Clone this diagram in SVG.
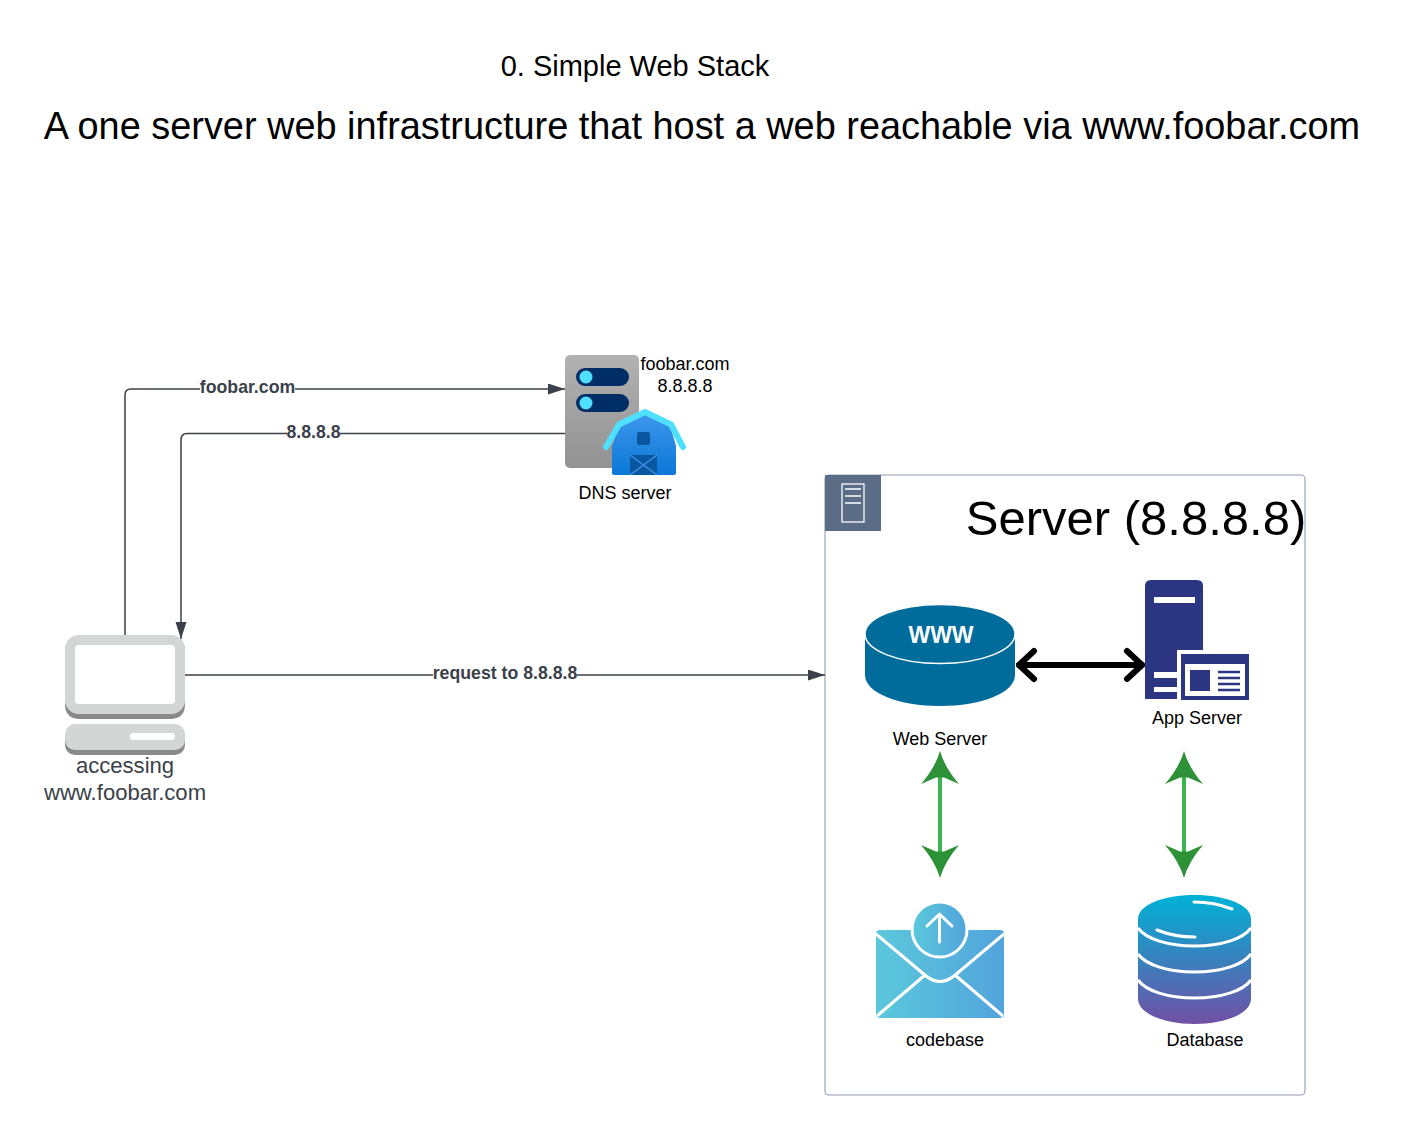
<svg xmlns="http://www.w3.org/2000/svg" width="1416" height="1135" viewBox="0 0 1416 1135">
<style>
text{font-family:"Liberation Sans",Arial,sans-serif;fill:#000;text-anchor:middle}
.conn{fill:none;stroke:#3a414a;stroke-width:1.5}
.lbl{font-size:18px;fill:#000}
.edge{font-size:17.700px;font-weight:bold;fill:#3a414a}
.bg{fill:#fff}
.green{stroke:#3cb44f;stroke-width:4;fill:none}
</style>
<defs>
<marker id="tri" markerUnits="userSpaceOnUse" markerWidth="18" markerHeight="12" refX="17" refY="5.5" orient="auto"><path d="M0 0L17 5.500L0 11Z" fill="#3a414a"/></marker>
<linearGradient id="srv" x1="0" y1="0" x2="0" y2="1"><stop offset="0" stop-color="#b2b2b2"/><stop offset="1" stop-color="#929292"/></linearGradient>
<linearGradient id="barn" x1="0" y1="0" x2="0" y2="1"><stop offset="0" stop-color="#3f96ec"/><stop offset="1" stop-color="#0a78d6"/></linearGradient>
<linearGradient id="mail" x1="0" y1="0" x2="1" y2="0"><stop offset="0" stop-color="#5bc8dc"/><stop offset="1" stop-color="#52a4dc"/></linearGradient>
<linearGradient id="db" x1="0" y1="0" x2="0" y2="1"><stop offset="0" stop-color="#00b2d6"/><stop offset="1" stop-color="#7150a5"/></linearGradient>
</defs>

<g id="titles">
<text x="635" y="75.500" font-size="29">0. Simple Web Stack</text>
<text x="702" y="139" font-size="37.900">A one server web infrastructure that host a web reachable via www.foobar.com</text>
</g>

<g id="server-container">
<rect x="825" y="475" width="480" height="620" rx="4" fill="#fff" stroke="#8f9db3" stroke-width="1.100"/>
<rect x="825" y="475" width="56" height="56" fill="#5a6c86"/>
<rect x="842" y="484" width="22" height="38" fill="none" stroke="#fff" stroke-width="1.300"/>
<path d="M845 489H861M845 496H861M845 503H861" stroke="#fff" stroke-width="1.300"/>
<text x="1136" y="534.500" font-size="49">Server (8.8.8.8)</text>
</g>

<g id="connectors">
<path class="conn" marker-end="url(#tri)" d="M125 635V395Q125 389 131 389H565"/>
<path class="conn" marker-end="url(#tri)" d="M565 433.500H187Q181 433.500 181 440V639"/>
<path class="conn" marker-end="url(#tri)" d="M185 675H825"/>
<rect class="bg" x="200" y="378" width="95" height="20"/>
<text class="edge" x="247.500" y="392.500">foobar.com</text>
<rect class="bg" x="287" y="423" width="53" height="20"/>
<text class="edge" x="313.500" y="437.500">8.8.8.8</text>
<rect class="bg" x="433" y="664" width="144" height="20"/>
<text class="edge" x="505" y="678.500">request to 8.8.8.8</text>
<g fill="none" stroke="#000" stroke-width="6" stroke-linecap="round" stroke-linejoin="round">
<path d="M1019 665H1142"/>
<path d="M1034 651L1019 665L1034 679"/>
<path d="M1127 651L1142 665L1127 679"/>
</g>
<path class="green" d="M940 775V855"/>
<path d="M940 751Q945 768 959 784L944 777.500H936L921 784Q935 768 940 751Z" fill="#2c9137"/>
<path d="M940 878Q945 861 959 845L944 851.500H936L921 845Q935 861 940 878Z" fill="#2c9137"/>
<path class="green" d="M1184 775V855"/>
<path d="M1184 751Q1189 768 1203 784L1188 777.500H1180L1165 784Q1179 768 1184 751Z" fill="#2c9137"/>
<path d="M1184 878Q1189 861 1203 845L1188 851.500H1180L1165 845Q1179 861 1184 878Z" fill="#2c9137"/>
</g>

<g id="dns-server">
<rect x="565" y="355" width="74" height="113" rx="5" fill="url(#srv)"/>
<rect x="576" y="368" width="53" height="18" rx="9" fill="#002d66"/>
<rect x="576" y="394" width="53" height="18" rx="9" fill="#002d66"/>
<circle cx="586" cy="377" r="6.500" fill="#50e0ff"/>
<circle cx="586" cy="403" r="6.500" fill="#50e0ff"/>
<path d="M612 473V446L620 425L645 413L670 425L676 446V473Q676 475 674 475H614Q612 475 612 473Z" fill="url(#barn)"/>
<path d="M606 447L619 424.500L645 412L671 424.500L683 447" fill="none" stroke="#50e0ff" stroke-width="6" stroke-linejoin="round" stroke-linecap="round"/>
<rect x="637" y="432" width="13" height="13" rx="2" fill="#0a56a0"/>
<rect x="630" y="455" width="27" height="20" fill="#0a56a0"/>
<path d="M630 455L657 475M657 455L630 475" stroke="#3f96ec" stroke-width="1.200"/>
<text class="lbl" x="685" y="369.500">foobar.com</text>
<text class="lbl" x="685" y="391.500">8.8.8.8</text>
<text class="lbl" x="625" y="498.500">DNS server</text>
</g>

<g id="client">
<path d="M65 650Q65 640 75 640H175Q185 640 185 650V704Q185 719 170 719H80Q65 719 65 704Z" fill="#8a8a8a"/>
<rect x="65" y="635" width="120" height="79" rx="14" fill="#d4d6d6"/>
<rect x="75" y="645" width="100" height="59" rx="4" fill="#fff"/>
<rect x="65" y="729" width="120" height="26" rx="10" fill="#8a8a8a"/>
<rect x="65" y="724" width="120" height="26" rx="10" fill="#d4d6d6"/>
<rect x="130" y="733" width="45" height="7" rx="3.500" fill="#fff"/>
<text x="125" y="773" font-size="22.100" style="fill:#3a414a">accessing</text>
<text x="125" y="800" font-size="22.100" style="fill:#3a414a">www.foobar.com</text>
</g>

<g id="web-server">
<path d="M865 635V675C865 693 899 706 940 706S1015 693 1015 675V635Z" fill="#006c9c"/>
<ellipse cx="940" cy="634" rx="75" ry="29.500" fill="#006c9c" stroke="#fff" stroke-width="1.500"/>
<text x="941" y="643" font-size="23" font-weight="bold" style="fill:#fff">WWW</text>
<text class="lbl" x="940" y="745">Web Server</text>
</g>

<g id="app-server">
<path d="M1145 699V586Q1145 580 1151 580H1197Q1203 580 1203 586V650H1177V699Z" fill="#2b3582"/>
<rect x="1154" y="597" width="41" height="6" fill="#fff"/>
<rect x="1154" y="672" width="23" height="6" fill="#fff"/>
<rect x="1154" y="687" width="23" height="5" fill="#fff"/>
<rect x="1181" y="654" width="68" height="46" fill="#2b3582"/>
<rect x="1185" y="664" width="60" height="32" fill="#fff"/>
<rect x="1190" y="670" width="20" height="21" fill="#2b3582"/>
<path d="M1218 672H1240M1218 678H1240M1218 684H1240M1218 690H1240" stroke="#2b3582" stroke-width="2.600"/>
<text class="lbl" x="1197" y="723.500">App Server</text>
</g>

<g id="codebase">
<path d="M880 930H1000Q1004 930 1004 934V1014Q1004 1018 1000 1018H880Q876 1018 876 1014V934Q876 930 880 930Z" fill="url(#mail)"/>
<path d="M876 934L926 976Q940 987 954 976L1004 934M877 1016L925 975M1003 1016L955 975" fill="none" stroke="#fff" stroke-width="3"/>
<circle cx="939.500" cy="929.500" r="27.500" fill="url(#mail)" stroke="#fff" stroke-width="3"/>
<path d="M939.500 942V914M927 926L939.500 914L952 926" fill="none" stroke="#fff" stroke-width="3" stroke-linecap="round" stroke-linejoin="round"/>
<text class="lbl" x="945" y="1046">codebase</text>
</g>

<g id="database">
<path d="M1138 919V999C1138 1013 1163 1024 1194.500 1024S1251 1013 1251 999V919C1251 905 1226 895 1194.500 895S1138 905 1138 919Z" fill="url(#db)"/>
<path d="M1138 928C1146 939 1168 946 1194.500 946S1243 939 1251 928M1138 954C1146 965 1168 972 1194.500 972S1243 965 1251 954M1138 980C1146 991 1168 998 1194.500 998S1243 991 1251 980" fill="none" stroke="#fff" stroke-width="3"/>
<path d="M1194 902C1208 902 1222 905 1232 909M1157 930C1167 934 1180 937 1195 937" fill="none" stroke="#fff" stroke-width="3" stroke-linecap="round"/>
<text class="lbl" x="1205" y="1046">Database</text>
</g>
</svg>
